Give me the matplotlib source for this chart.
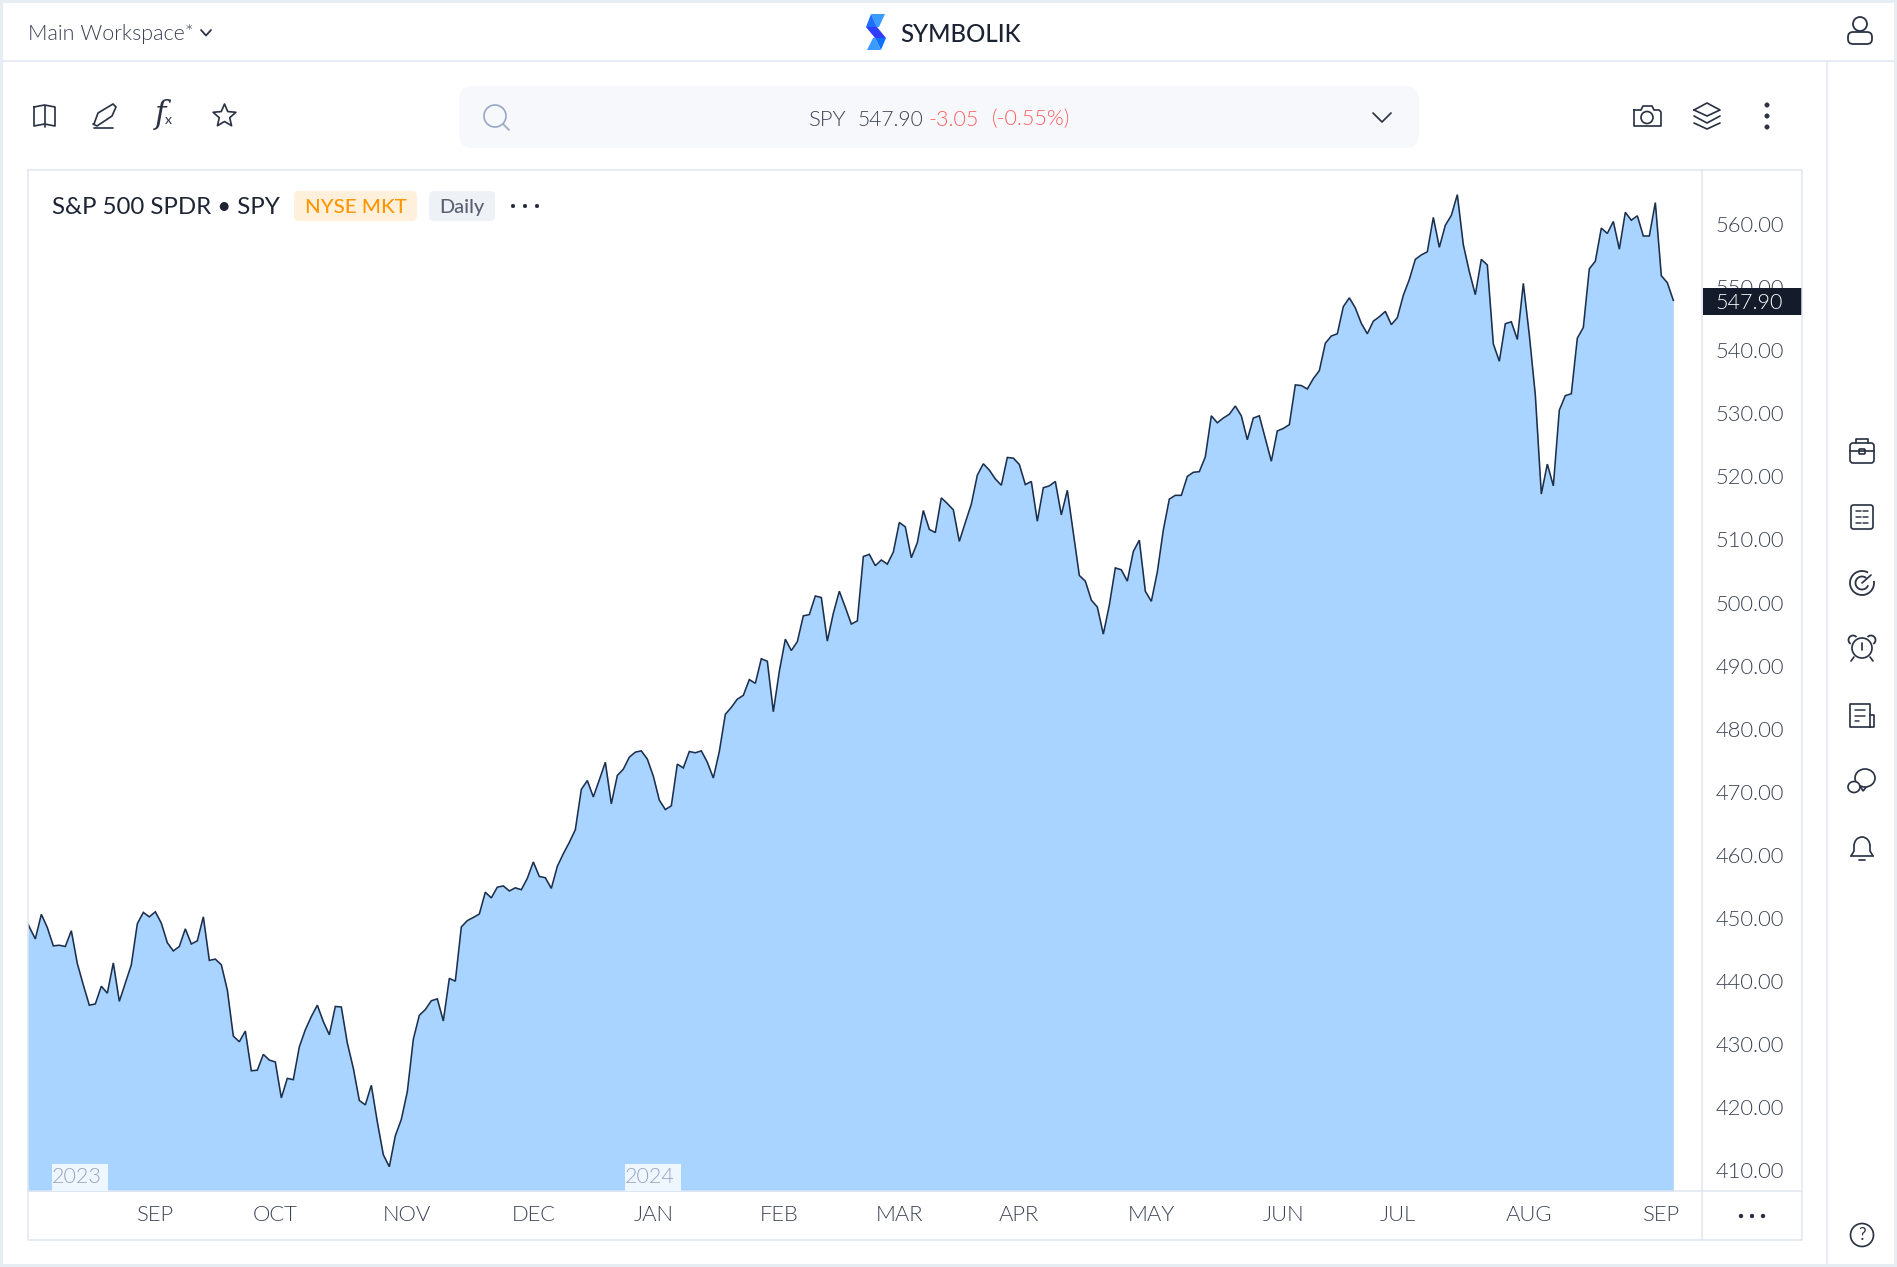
import numpy as np
import matplotlib
matplotlib.use("Agg")
import matplotlib.pyplot as plt
from matplotlib.patches import Rectangle, FancyBboxPatch, Circle, Polygon, Ellipse, Arc

# ---- data (daily closes) ----
aug_2023 = [450.6, 448.6, 446.7, 450.6, 448.5, 445.6, 445.7, 445.5, 448.0, 442.8, 439.4, 436.2, 436.4,
            439.2, 438.1, 442.9, 436.8, 439.7, 442.6, 449.1, 450.9, 450.2]
sep_2023 = [451.0, 449.2, 446.1, 444.8, 445.5, 448.3, 445.9, 446.4, 450.2, 443.3, 443.5, 442.6, 438.6,
            431.3, 430.4, 432.1, 425.8, 425.9, 428.4, 427.5]
oct_2023 = [427.2, 421.5, 424.6, 424.4, 429.6, 432.3, 434.4, 436.2, 433.6, 431.5, 436.0, 435.9, 430.2,
            426.2, 421.1, 420.4, 423.5, 417.7, 412.5, 410.6, 415.5, 418.1]
nov_2023 = [422.5, 430.8, 434.6, 435.5, 436.9, 437.2, 433.7, 440.45, 440.0, 448.6, 449.6, 450.1, 450.65,
            454.1, 453.2, 454.9, 455.1, 454.3, 454.8, 454.5, 456.3]
dec_2023 = [458.9, 456.6, 456.4, 454.7, 458.2, 460.2, 462.0, 464.0, 470.4, 471.8, 469.2, 471.9, 474.7,
            468.1, 472.6, 473.6, 475.5, 476.3, 476.5, 475.2]
jan_2024 = [472.5, 468.7, 467.2, 467.8, 474.4, 473.8, 476.4, 476.2, 476.5, 474.7, 472.2, 476.4, 482.3,
            483.4, 484.7, 485.3, 487.8, 487.2, 491.1, 490.7, 482.7]
feb_2024 = [489.1, 494.2, 492.4, 493.8, 497.9, 498.1, 501.05, 500.8, 493.9, 498.3, 501.8, 499.25, 496.6,
            497.1, 507.3, 507.65, 505.85, 506.75, 506.1, 508.0]
mar_2024 = [512.7, 512.0, 507.1, 509.5, 514.6, 511.6, 511.1, 516.6, 515.7, 514.7, 509.7, 512.7, 515.6,
            520.2, 522.0, 521.0, 519.6, 518.6, 523.0, 522.9]
apr_2024 = [521.9, 518.7, 519.2, 512.9, 518.2, 518.5, 519.2, 513.9, 517.8, 511.0, 504.3, 503.4, 500.4,
            499.3, 495.0, 499.6, 505.5, 505.2, 503.4, 508.1, 509.9, 501.8]
may_2024 = [500.2, 504.85, 511.5, 516.4, 517.0, 517.0, 520.0, 520.65, 520.75, 523.1, 529.6, 528.5, 529.25,
            529.85, 531.15, 529.6, 525.8, 529.25, 529.6, 526.0, 522.4, 527.2]
jun_2024 = [527.6, 528.2, 534.5, 534.4, 533.85, 535.5, 536.75, 541.1, 542.25, 542.6, 546.9, 548.3, 546.7,
            544.25, 542.6, 544.6, 545.3, 546.15, 544.05]
jul_2024 = [545.15, 548.7, 551.2, 554.4, 555.1, 555.6, 561.05, 556.3, 559.8, 561.35, 564.65, 556.7, 552.45,
            548.8, 554.4, 553.5, 541.0, 538.25, 544.2, 544.5, 541.7, 550.6]
aug_2024 = [542.4, 532.9, 517.2, 521.95, 518.5, 530.5, 532.8, 533.1, 541.9, 543.6, 552.9, 554.1, 559.35,
            558.5, 560.4, 556.0, 561.85, 560.6, 561.3, 558.1, 558.1, 563.4]
sep_2024 = [551.8, 550.7, 547.90]

closes = (aug_2023 + sep_2023 + oct_2023 + nov_2023 + dec_2023 + jan_2024 + feb_2024 + mar_2024
          + apr_2024 + may_2024 + jun_2024 + jul_2024 + aug_2024 + sep_2024)

month_labels = ["SEP", "OCT", "NOV", "DEC", "JAN", "FEB", "MAR", "APR", "MAY", "JUN", "JUL", "AUG", "SEP"]
month_sizes = [aug_2023, sep_2023, oct_2023, nov_2023, dec_2023, jan_2024, feb_2024, mar_2024,
               apr_2024, may_2024, jun_2024, jul_2024, aug_2024]
price_ticks = list(range(410, 570, 10))
symbol, last_price, change, change_pct = "SPY", "547.90", "-3.05", "(-0.55%)"

# ---- style ----
W, H = 1897, 1267
FONT = "Lato"
BG, BORDER, INK, TXT = "#e6eef3", "#e0e5f0", "#2a3244", "#3a4152"
FILL, LINE = "#a9d4ff", "#1b2f4e"
LIGHT = 300
plt.rcParams["font.family"] = [FONT, "DejaVu Sans"]
fs = lambda px: px * 0.72
lw = lambda px: px * 0.72

fig = plt.figure(figsize=(W / 100, H / 100), dpi=100, facecolor=BG)


def px_axes(z):
    a = fig.add_axes([0, 0, 1, 1], zorder=z)
    a.set_xlim(0, W)
    a.set_ylim(H, 0)
    a.axis("off")
    return a


base = px_axes(-1)
base.add_patch(Rectangle((3, 3), W - 6, H - 6, fc="white", ec="none"))

# ---- chart axes ----
L_, R_, T_, B_ = 28, 1702, 170, 1191
ax = fig.add_axes([L_ / W, 1 - B_ / H, (R_ - L_) / W, (B_ - T_) / H], zorder=1)
X0, DX = 29.33, 6.0
Y560, PPU = 224.0, 6.31
ax.set_xlim((L_ - X0) / DX, (R_ - X0) / DX)
ax.set_ylim(560 - (B_ - Y560) / PPU, 560 - (T_ - Y560) / PPU)
x = np.arange(len(closes)) - 1
ax.fill_between(x, closes, ax.get_ylim()[0], color=FILL, lw=0)
ax.plot(x, closes, color=LINE, lw=lw(1.6), solid_joinstyle="miter")
ax.yaxis.tick_right()
ax.set_yticks(price_ticks)
ax.set_yticklabels([f"{v:.2f}" for v in price_ticks], fontsize=fs(22), color=TXT, fontweight=LIGHT)
month_starts = np.cumsum([len(m) for m in month_sizes]) - 1
ax.set_xticks(month_starts)
ax.set_xticklabels(month_labels, fontsize=fs(22), color=TXT, fontweight=LIGHT)
ax.tick_params(axis="y", length=0, pad=9.5)
ax.tick_params(axis="x", length=0, pad=10)
for s in ax.spines.values():
    s.set_color(BORDER)
    s.set_linewidth(lw(1.5))

# ---- chrome ----
ov = px_axes(5)


def line(xs, ys, c=INK, w=1.7, **k):
    ov.plot(xs, ys, color=c, lw=lw(w), solid_capstyle="round", solid_joinstyle="round", **k)


def circ(cx, cy, r, c=INK, w=1.7, fc="none"):
    ov.add_patch(Circle((cx, cy), r, fc=fc, ec=c, lw=lw(w)))


def rrect(x0, y0, x1, y1, r, fc="none", ec=INK, w=1.7):
    ov.add_patch(FancyBboxPatch((x0 + r, y0 + r), x1 - x0 - 2 * r, y1 - y0 - 2 * r,
                                boxstyle=f"round,pad={r},rounding_size={r}", fc=fc, ec=ec, lw=lw(w)))


def T(x_, y_, s, px, c=TXT, weight="normal", ha="left"):
    ov.text(x_, y_, s, fontsize=fs(px), color=c, fontweight=weight, ha=ha, va="center_baseline")


# frame lines
line([3, W - 3], [61, 61], BORDER, 1.5)
line([1827, 1827], [61, H - 3], BORDER, 1.5)
line([R_, 1802, 1802, L_, L_], [T_, T_, 1240, 1240, B_], BORDER, 1.5)
line([R_, R_], [B_, 1240], BORDER, 1.5)
line([R_, 1802], [B_, B_], BORDER, 1.5)

# header
T(27.5, 32, "Main Workspace*", 21.5, TXT, LIGHT)
line([201, 206, 211], [30, 35.5, 30], INK, 1.8)
T(900, 32, "SYMBOLIK", 24, "#1a2233", "medium")
ov.add_patch(Polygon([(871, 14), (885, 14), (879, 27), (877, 27)], fc="#3b9bff"))
ov.add_patch(Polygon([(871, 14), (877, 27), (866, 27)], fc="#1f6fff"))
ov.add_patch(Polygon([(866, 27), (877, 27), (886, 38), (875, 38)], fc="#2f3dff"))
ov.add_patch(Polygon([(875, 38), (886, 38), (881, 50)], fc="#0f72ff"))
ov.add_patch(Polygon([(867, 50), (881, 50), (875, 38), (873, 38)], fc="#3b9bff"))
# user icon
circ(1860, 24, 7, INK, 1.8)
ov.add_patch(FancyBboxPatch((1853, 37), 14, 2, boxstyle="round,pad=5,rounding_size=5", fc="none", ec=INK, lw=lw(1.8)))

# toolbar icons
line([44.5, 44.5], [106, 127])
line([34, 34, 44.5, 55, 55, 44.5, 34], [107, 126, 124, 126, 107, 105, 107])
line([94, 98, 113, 116, 112, 97, 93], [124, 113, 104, 107, 116, 126, 124])
line([94, 113], [128, 128])
ov.text(166, 114, "f", fontsize=fs(31), color=INK, style="italic", family="DejaVu Serif", ha="right", va="center")
ov.text(165, 120, "x", fontsize=fs(14), color=INK, ha="left", va="center")
star_a = np.deg2rad(np.arange(0, 360, 36) - 90)
star_r = np.where(np.arange(10) % 2 == 0, 12, 5.5)
ov.add_patch(Polygon(np.c_[224.5 + star_r * np.cos(star_a), 116 + star_r * np.sin(star_a)], fc="none", ec=INK,
                     lw=lw(1.7), joinstyle="round"))

# search bar
rrect(459, 86, 1419, 148, 14, fc="#f6f8fc", ec="none", w=0)
circ(495, 116, 11, "#9aa9c2", 1.7)
line([503, 509], [124, 130], "#9aa9c2", 1.7)
T(809, 117.5, symbol, 22, TXT, LIGHT)
T(857, 117.5, last_price, 21, TXT, LIGHT)
T(929, 117.5, change, 21.5, "#ff5f5f", LIGHT)
T(992, 117.5, change_pct, 21.5, "#ff5f5f", LIGHT)
line([1373, 1382, 1391], [113, 122, 113], INK, 1.7)

# camera, layers, kebab
line([1634, 1636, 1641, 1643, 1652, 1654, 1659, 1661, 1661, 1634, 1634],
     [110, 110, 110, 106, 106, 110, 110, 112, 126, 126, 110])
circ(1647, 117.5, 6)
line([1694, 1707, 1720, 1707, 1694], [110, 103, 110, 116, 110])
line([1694, 1707, 1720], [116, 123, 116])
line([1694, 1707, 1720], [123, 129, 123])
for yy in (105, 116, 127):
    circ(1767, yy, 2.2, INK, 0.5, fc=INK)

# chart title and pills
T(52.5, 206, "S&P 500 SPDR • SPY", 24, "#1d2433")
rrect(294, 191, 417, 221, 5, fc="#fff0dc", ec="none", w=0)
T(355.5, 206, "NYSE MKT", 20.5, "#ff9500", "medium", ha="center")
rrect(429, 191, 495, 221, 5, fc="#eef1f6", ec="none", w=0)
T(462, 206, "Daily", 20, "#5a6072", "medium", ha="center")
for xx in (513, 525, 537):
    circ(xx, 206, 1.8, "#1d2433", 0.5, fc="#1d2433")

# year labels over the area
for x0_, x1_, yr in ((52, 108, "2023"), (625, 681, "2024")):
    ov.add_patch(Rectangle((x0_, 1164), x1_ - x0_, 27, fc="#eef6ff", ec="none"))
    T(x0_, 1175, yr, 21.5, "#98a3bf", LIGHT)

# price tag
ov.add_patch(Rectangle((R_ + 1, 288), 1802 - R_ - 1, 27, fc="#141c2b", ec="none"))
T(1715, 301, last_price, 21.5, "white", LIGHT)

# axis corner dots and help
for xx in (1741, 1752, 1763):
    circ(xx, 1216, 1.9, "#1d2433", 0.5, fc="#1d2433")

# side rail icons
sx = 1862
# briefcase
rrect(sx - 12, 443, sx + 12, 463, 3)
line([sx - 12, sx + 12], [451, 451])
line([sx - 6, sx - 6, sx + 6, sx + 6], [443, 439, 439, 443])
rrect(sx - 3, 449, sx + 3, 454, 1)
# table
rrect(sx - 11, 505, sx + 11, 529, 2.5)
for yy in (511, 517, 523):
    line([sx - 6, sx - 1], [yy, yy], w=1.5)
    line([sx + 1, sx + 6], [yy, yy], w=1.5)
# radar
ov.add_patch(Arc((sx, 583), 24, 24, theta1=-10, theta2=300, ec=INK, lw=lw(1.8)))
ov.add_patch(Arc((sx, 583), 13, 13, theta1=20, theta2=310, ec=INK, lw=lw(1.8)))
line([sx, sx + 9], [583, 575])
# alarm
circ(sx, 648, 10)
line([sx, sx], [643, 650])
line([sx - 8, sx - 11], [657, 661])
line([sx + 8, sx + 11], [657, 661])
ov.add_patch(Arc((sx - 9, 640), 9, 9, theta1=120, theta2=320, ec=INK, lw=lw(1.8)))
ov.add_patch(Arc((sx + 9, 640), 9, 9, theta1=220, theta2=60, ec=INK, lw=lw(1.8)))
# news
line([sx + 8, sx + 8, sx - 12, sx - 12, sx + 8], [727, 704, 704, 727, 727])
line([sx + 8, sx + 12, sx + 12, sx + 8], [715, 715, 727, 727])
for yy, e in ((710, 3), (716, 3), (721, -3)):
    line([sx - 7, sx + e], [yy, yy], w=1.5)
# chat
ov.add_patch(Polygon([(sx - 3, 784), (sx + 1, 791), (sx + 5, 786)], fc="white", ec=INK, lw=lw(1.7)))
ov.add_patch(Ellipse((sx + 3, 778), 20, 18, fc="white", ec=INK, lw=lw(1.7)))
ov.add_patch(Ellipse((sx - 8, 787), 12, 11, fc="white", ec=INK, lw=lw(1.7)))
# bell
line([sx - 11, sx - 8, sx - 8], [856, 851, 846])
line([sx + 11, sx + 8, sx + 8], [856, 851, 846])
line([sx - 11, sx + 11], [856, 856])
ov.add_patch(Arc((sx, 846), 16, 18, theta1=180, theta2=360, ec=INK, lw=lw(1.7)))
line([sx - 3, sx + 3], [860, 860])
# help
circ(sx, 1235, 11.5)
ov.text(sx, 1235.5, "?", fontsize=fs(17), color=INK, ha="center", va="center")

fig.savefig("out.png", dpi=100, facecolor=BG)
